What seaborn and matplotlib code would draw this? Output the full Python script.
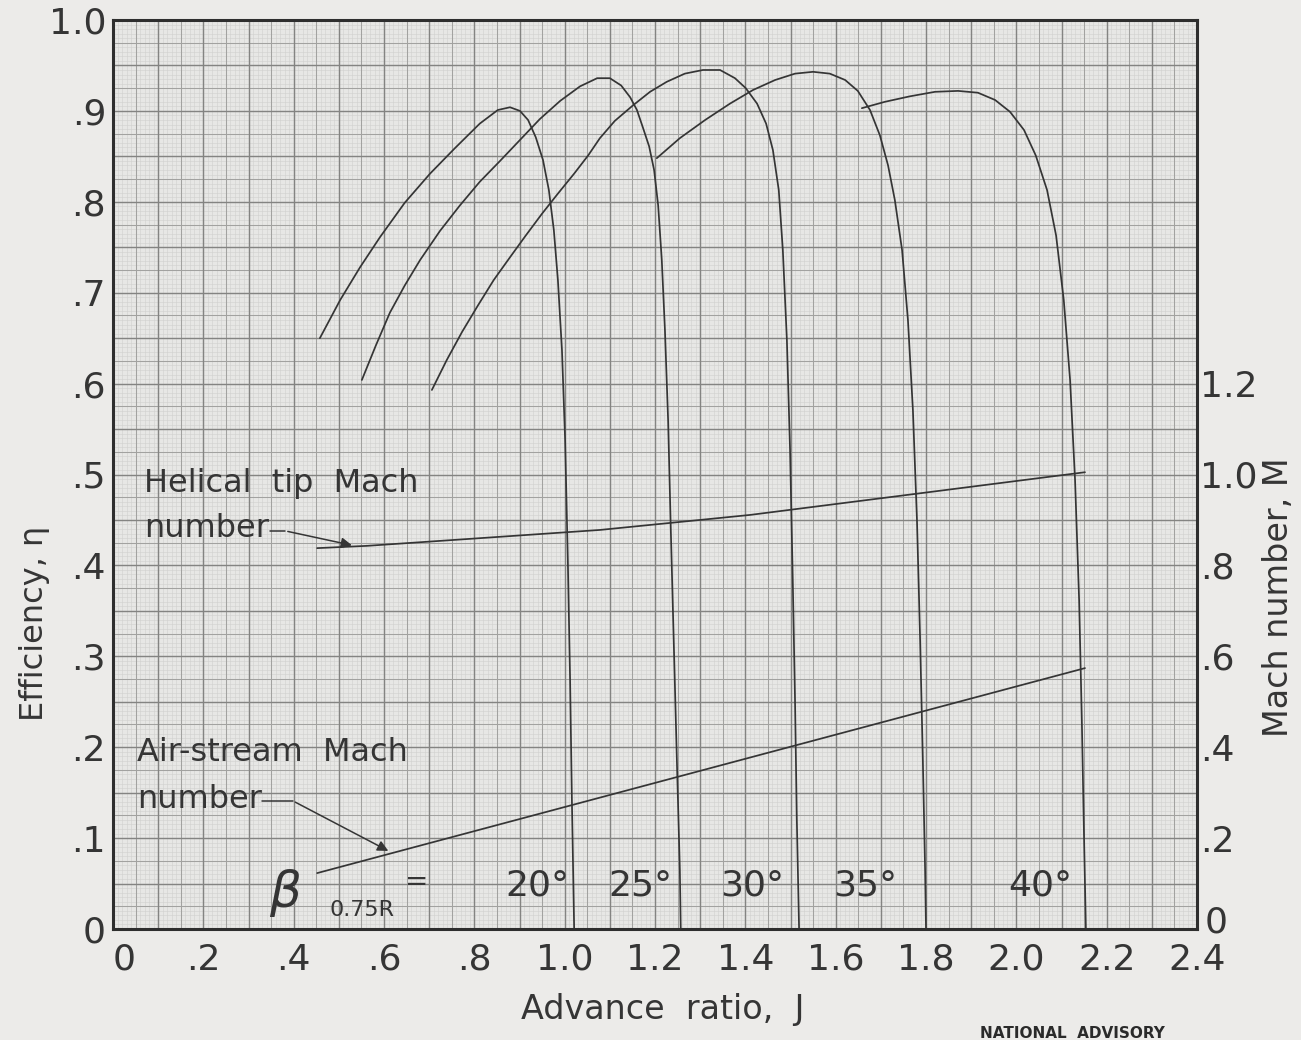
import numpy as np
import pandas as pd
import matplotlib
matplotlib.use("Agg")
import matplotlib.pyplot as plt
import seaborn as sns

# Advance ratio J and efficiency for each blade angle
j_20 = [0.458, 0.503, 0.547, 0.591, 0.646, 0.702, 0.757, 0.812, 0.852, 0.879, 0.901, 0.919, 0.936,
        0.952, 0.965, 0.976, 0.985, 0.994, 1.001, 1.007, 1.012, 1.016, 1.021]
eta_20 = [0.650, 0.692, 0.728, 0.761, 0.799, 0.831, 0.859, 0.886, 0.901, 0.904, 0.900, 0.890, 0.871,
          0.846, 0.813, 0.769, 0.714, 0.637, 0.538, 0.406, 0.274, 0.142, 0.0]

j_25 = [0.551, 0.582, 0.613, 0.646, 0.680, 0.724, 0.768, 0.812, 0.857, 0.901, 0.945, 0.990, 1.034,
        1.072, 1.100, 1.125, 1.145, 1.160, 1.173, 1.187, 1.198, 1.207, 1.215, 1.222, 1.229, 1.235,
        1.242, 1.249, 1.255, 1.257]
eta_25 = [0.604, 0.642, 0.678, 0.708, 0.736, 0.768, 0.796, 0.822, 0.845, 0.868, 0.891, 0.911, 0.927,
          0.936, 0.936, 0.928, 0.915, 0.901, 0.882, 0.861, 0.835, 0.796, 0.736, 0.659, 0.560, 0.439,
          0.307, 0.175, 0.065, 0.0]

j_30 = [0.706, 0.739, 0.773, 0.808, 0.843, 0.879, 0.914, 0.950, 0.985, 1.021, 1.052, 1.078, 1.111,
        1.151, 1.189, 1.226, 1.266, 1.306, 1.344, 1.377, 1.401, 1.426, 1.446, 1.461, 1.474, 1.483,
        1.492, 1.499, 1.505, 1.510, 1.514, 1.519]
eta_30 = [0.593, 0.626, 0.657, 0.686, 0.714, 0.739, 0.763, 0.787, 0.809, 0.831, 0.851, 0.870, 0.889,
          0.906, 0.921, 0.932, 0.941, 0.945, 0.945, 0.936, 0.925, 0.908, 0.886, 0.857, 0.813, 0.747,
          0.648, 0.527, 0.384, 0.252, 0.120, 0.0]

j_35 = [1.204, 1.255, 1.311, 1.366, 1.417, 1.466, 1.510, 1.550, 1.587, 1.621, 1.649, 1.676, 1.698,
        1.716, 1.731, 1.747, 1.760, 1.771, 1.780, 1.787, 1.793, 1.798, 1.800]
eta_35 = [0.848, 0.870, 0.890, 0.908, 0.923, 0.934, 0.941, 0.943, 0.941, 0.934, 0.922, 0.901, 0.873,
          0.840, 0.802, 0.747, 0.670, 0.571, 0.450, 0.318, 0.186, 0.065, 0.0]

j_40 = [1.658, 1.709, 1.764, 1.820, 1.871, 1.915, 1.953, 1.986, 2.017, 2.043, 2.068, 2.088, 2.105,
        2.119, 2.130, 2.139, 2.145, 2.150, 2.154]
eta_40 = [0.903, 0.910, 0.916, 0.921, 0.922, 0.920, 0.912, 0.899, 0.879, 0.851, 0.813, 0.763, 0.692,
          0.604, 0.494, 0.362, 0.230, 0.098, 0.0]

# Mach numbers (right-hand scale)
j_tip = [0.452, 0.562, 0.784, 1.078, 1.410, 1.742, 2.152]
mach_tip = [0.838, 0.843, 0.858, 0.878, 0.911, 0.953, 1.005]

j_air = [0.452, 2.152]
mach_air = [0.123, 0.574]

blade_angles = ["20°", "25°", "30°", "35°", "40°"]
angle_label_j = [0.939, 1.167, 1.415, 1.665, 2.052]

x_ticks = [0, 0.2, 0.4, 0.6, 0.8, 1.0, 1.2, 1.4, 1.6, 1.8, 2.0, 2.2, 2.4]
x_tick_labels = ["0", ".2", ".4", ".6", ".8", "1.0", "1.2", "1.4", "1.6", "1.8", "2.0", "2.2", "2.4"]
y_ticks = [0, 0.1, 0.2, 0.3, 0.4, 0.5, 0.6, 0.7, 0.8, 0.9, 1.0]
y_tick_labels = ["0", ".1", ".2", ".3", ".4", ".5", ".6", ".7", ".8", ".9", "1.0"]
m_ticks = [0.2, 0.4, 0.6, 0.8, 1.0, 1.2]
m_tick_labels = [".2", ".4", ".6", ".8", "1.0", "1.2"]

sns.set_theme(style="white")
plt.rcParams["font.family"] = ["DejaVu Sans"]

INK = "#353535"
PAPER = "#ecebe9"

fig = plt.figure(figsize=(13.01, 10.40), dpi=100, facecolor=PAPER)
ax = fig.add_axes([113 / 1301, (1040 - 929) / 1040, (1197 - 113) / 1301, (929 - 20) / 1040])
ax.set_facecolor("#e7e7e5")
ax.set_xlim(0, 2.4)
ax.set_ylim(0, 1.0)

# graph-paper ruling: fine, cell and heavy lines
ax.vlines(np.arange(0, 2.4001, 0.01), 0, 1, color="#d0d0ce", lw=0.4, zorder=0)
ax.hlines(np.arange(0, 1.0001, 0.005), 0, 2.4, color="#d0d0ce", lw=0.4, zorder=0)
ax.vlines(np.arange(0, 2.4001, 0.05), 0, 1, color="#a2a2a0", lw=0.75, zorder=0)
ax.hlines(np.arange(0, 1.0001, 0.025), 0, 2.4, color="#a2a2a0", lw=0.75, zorder=0)
ax.vlines(np.arange(0, 2.4001, 0.1), 0, 1, color="#848482", lw=1.0, zorder=0)
ax.hlines(np.arange(0, 1.0001, 0.05), 0, 2.4, color="#848482", lw=1.0, zorder=0)

for spine in ax.spines.values():
    spine.set_color("#2e2e2e")
    spine.set_linewidth(2.2)

curves = [(j_20, eta_20), (j_25, eta_25), (j_30, eta_30), (j_35, eta_35), (j_40, eta_40)]
for jj, ee in curves:
    df = pd.DataFrame({"J": jj, "eta": ee})
    sns.lineplot(data=df, x="J", y="eta", ax=ax, color=INK, lw=1.25, sort=False,
                 estimator=None, legend=False)

ax.set_xticks(x_ticks)
ax.set_xticklabels(x_tick_labels)
ax.set_yticks(y_ticks)
ax.set_yticklabels(y_tick_labels)
ax.tick_params(axis="both", length=0, labelsize=26, colors=INK)
ax.tick_params(axis="x", pad=10)
ax.tick_params(axis="y", pad=5)
ax.get_xticklabels()[0].set_horizontalalignment("left")
ax.set_xlabel("")
ax.set_ylabel("")

ax2 = ax.twinx()
ax2.set_ylim(0, 2.0)
ax2.set_xlim(0, 2.4)
sns.lineplot(x=j_tip, y=mach_tip, ax=ax2, color=INK, lw=1.25, legend=False)
sns.lineplot(x=j_air, y=mach_air, ax=ax2, color=INK, lw=1.25, legend=False)
ax2.set_yticks(m_ticks)
ax2.set_yticklabels(m_tick_labels)
ax2.tick_params(axis="y", length=0, labelsize=26, colors=INK, pad=2)
for spine in ax2.spines.values():
    spine.set_visible(False)
ax2.grid(False)
# zero of the Mach scale, set a little above the corner
ax2.text(1.0 + 8 / 1084, 0.007, "0", transform=ax2.transAxes, ha="left", va="center",
         color=INK, fontsize=26)

# annotations
txt = dict(color=INK, fontsize=23)
ax.text(0.068, 0.49, "Helical  tip  Mach", va="center", ha="left", **txt)
ax.text(0.068, 0.441, "number", va="center", ha="left", **txt)
ax.plot([0.348, 0.381], [0.438, 0.438], color=INK, lw=1.1)
ax.annotate("", xy=(0.535, 0.4215), xytext=(0.381, 0.438),
            arrowprops=dict(arrowstyle="-|>", color=INK, lw=1.1, mutation_scale=16))

ax.text(0.053, 0.194, "Air-stream  Mach", va="center", ha="left", **txt)
ax.text(0.053, 0.143, "number", va="center", ha="left", **txt)
ax.plot([0.330, 0.398], [0.141, 0.141], color=INK, lw=1.1)
ax.annotate("", xy=(0.615, 0.0845), xytext=(0.398, 0.141),
            arrowprops=dict(arrowstyle="-|>", color=INK, lw=1.1, mutation_scale=16))

ax.text(0.381, 0.040, "β", va="center", ha="center", color=INK, fontsize=36, fontstyle="italic")
ax.text(0.551, 0.021, "0.75R", va="center", ha="center", color=INK, fontsize=16)
ax.text(0.673, 0.052, "=", va="center", ha="center", color=INK, fontsize=20)
for lab, jx in zip(blade_angles, angle_label_j):
    ax.text(jx, 0.048, lab, va="center", ha="center", color=INK, fontsize=26)

fig.text(35 / 1301, 1 - 623 / 1040, "Efficiency, η", rotation=90, va="center", ha="center",
         color=INK, fontsize=23)
fig.text(1278 / 1301, 1 - 597 / 1040, "Mach number, M", rotation=90, va="center", ha="center",
         color=INK, fontsize=24)
fig.text(663 / 1301, 1 - 1010 / 1040, "Advance  ratio,  J", va="center", ha="center",
         color=INK, fontsize=24)
fig.text(1072 / 1301, 1 - 1033 / 1040, "NATIONAL  ADVISORY", va="center", ha="center",
         color="#2a2a2a", fontsize=11, fontweight="bold")

fig.savefig("out.png", dpi=100, facecolor=PAPER)
